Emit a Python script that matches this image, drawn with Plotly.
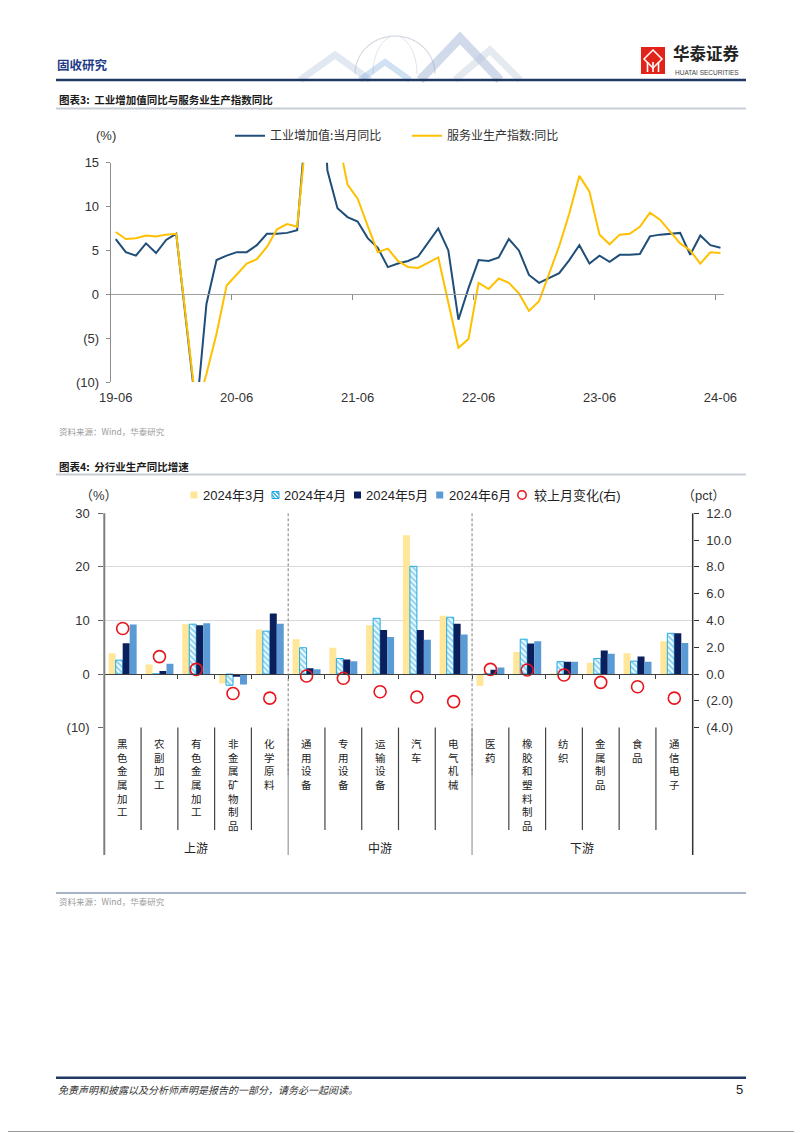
import math
import plotly.graph_objects as go

# The page places the figure 8px in from the top-left corner (default body margin),
# so the figure is sized to fill the rest of the 802x1133 window.
OFF = 8
W, H = 802 - OFF, 1133 - OFF
def px(x): return (x - OFF) / W
def py(y): return 1 - (y - OFF) / H

FONT_NUM = "Liberation Sans, Arial, Noto Sans CJK SC"
FONT_CJK = "Noto Sans CJK SC"

# ---------------- Chart 1 data (monthly, 2019-06 .. 2024-06; Jan merged into Feb) ----------------
month_tick_labels = ["19-06", "20-06", "21-06", "22-06", "23-06", "24-06"]
month_tick_index = [0, 12, 24, 36, 48, 60]
ip_yoy = [6.3, 4.8, 4.4, 5.8, 4.7, 6.2, 6.9,
          None, -13.5, -1.1, 3.9, 4.4, 4.8, 4.8, 5.6, 6.9, 6.9, 7.0, 7.3,
          None, 35.1, 14.1, 9.8, 8.8, 8.3, 6.4, 5.3, 3.1, 3.5, 3.8, 4.3,
          None, 7.5, 5.0, -2.9, 0.7, 3.9, 3.8, 4.2, 6.3, 5.0, 2.2, 1.3,
          None, 2.4, 3.9, 5.6, 3.5, 4.4, 3.7, 4.5, 4.5, 4.6, 6.6, 6.8,
          None, 7.0, 4.5, 6.7, 5.6, 5.3]
svc_yoy = [7.1, 6.3, 6.4, 6.7, 6.6, 6.8, 6.9,
           None, -13.0, -9.1, -4.5, 1.0, 2.3, 3.5, 4.0, 5.4, 7.4, 8.0, 7.7,
           None, 31.1, 25.3, 18.2, 12.5, 10.9, 7.8, 4.8, 5.2, 3.8, 3.1, 3.0,
           None, 4.2, -0.9, -6.1, -5.1, 1.3, 0.6, 1.8, 1.3, 0.1, -1.9, -0.8,
           None, 5.5, 9.2, 13.5, 11.7, 6.8, 5.7, 6.8, 6.9, 7.7, 9.3, 8.5,
           None, 5.8, 5.0, 3.5, 4.8, 4.7]
left1_ticks = [-10, -5, 0, 5, 10, 15]
left1_labels = ["(10)", "(5)", "0", "5", "10", "15"]

# ---------------- Chart 2 data ----------------
industries = ["黑色金属加工", "农副加工", "有色金属加工", "非金属矿物制品", "化学原料",
              "通用设备", "专用设备", "运输设备", "汽车", "电气机械",
              "医药", "橡胶和塑料制品", "纺织", "金属制品", "食品", "通信电子"]
group_names = ["上游", "中游", "下游"]
group_sizes = [5, 5, 6]
yoy_2403 = [3.9, 1.8, 9.3, -1.75, 8.3, 6.5, 4.9, 9.1, 25.9, 10.9, -2.25, 4.1, -0.2, 2.1, 3.9, 6.1]
yoy_2404 = [2.6, 0.0, 9.3, -2.1, 8.0, 4.9, 2.9, 10.4, 20.1, 10.6, 0.0, 6.5, 2.3, 2.9, 2.4, 7.6]
yoy_2405 = [5.75, 0.56, 9.1, -0.5, 11.3, 1.06, 2.7, 8.2, 8.2, 9.4, 0.8, 5.7, 2.3, 4.4, 3.25, 7.6]
yoy_2406 = [9.25, 1.9, 9.5, -1.95, 9.4, 0.9, 2.4, 6.9, 6.4, 7.4, 1.2, 6.1, 2.3, 3.8, 2.3, 5.8]
mom_change = [3.4, 1.3, 0.35, -1.45, -1.8, -0.15, -0.32, -1.32, -1.72, -2.06, 0.35, 0.3, -0.07, -0.62, -0.95, -1.8]
series_names = ["2024年3月", "2024年4月", "2024年5月", "2024年6月", "较上月变化(右)"]
left2_ticks = [-10, 0, 10, 20, 30]
left2_labels = ["(10)", "0", "10", "20", "30"]
right2_ticks = [-4, -2, 0, 2, 4, 6, 8, 10, 12]
right2_labels = ["(4.0)", "(2.0)", "0.0", "2.0", "4.0", "6.0", "8.0", "10.0", "12.0"]

# colours
C_IP, C_SVC = "#1F4E79", "#FFC000"
C_MAR, C_APR, C_MAY, C_JUN, C_CHG = "#FFE699", "#1FAAE3", "#0B1F5C", "#5B9BD5", "#E8141C"

# ---------------- geometry (window pixels) ----------------
C1_X0, C1_X1 = 110.7, 724.0
C1_YTOP, C1_YBOT, C1_YZERO = 162.7, 382.0, 294.0
C2_X0, C2_X1 = 104.3, 692.7
C2_YTOP, C2_YBOT, C2_YZERO = 513.3, 727.6, 674.0

fig = go.Figure()

idx = list(range(len(ip_yoy)))
fig.add_trace(go.Scatter(x=idx, y=ip_yoy, mode="lines", name="工业增加值:当月同比",
                         connectgaps=True, line=dict(color=C_IP, width=2),
                         xaxis="x", yaxis="y", legend="legend"))
fig.add_trace(go.Scatter(x=idx, y=svc_yoy, mode="lines", name="服务业生产指数:同比",
                         connectgaps=True, line=dict(color=C_SVC, width=2),
                         xaxis="x", yaxis="y", legend="legend2"))
fig.add_trace(go.Scatter(x=[None], y=[None], xaxis="x3", yaxis="y", showlegend=False, hoverinfo="skip"))

cat_x = list(range(len(industries)))
fig.add_trace(go.Bar(x=cat_x, y=yoy_2403, name=series_names[0], marker=dict(color=C_MAR, line=dict(width=0)),
                     xaxis="x2", yaxis="y2", showlegend=False))
fig.add_trace(go.Bar(x=cat_x, y=yoy_2404, name=series_names[1],
                     marker=dict(color="white", line=dict(color=C_APR, width=1),
                                 pattern=dict(shape="\\", fgcolor=C_APR, bgcolor="white", size=4, solidity=0.55)),
                     xaxis="x2", yaxis="y2", showlegend=False))
fig.add_trace(go.Bar(x=cat_x, y=yoy_2405, name=series_names[2], marker=dict(color=C_MAY, line=dict(width=0)),
                     xaxis="x2", yaxis="y2", showlegend=False))
fig.add_trace(go.Bar(x=cat_x, y=yoy_2406, name=series_names[3], marker=dict(color=C_JUN, line=dict(width=0)),
                     xaxis="x2", yaxis="y2", showlegend=False))
fig.add_trace(go.Scatter(x=[None], y=[None], xaxis="x4", yaxis="y2", showlegend=False, hoverinfo="skip"))
fig.add_trace(go.Scatter(x=cat_x, y=mom_change, mode="markers", name=series_names[4],
                         marker=dict(symbol="circle-open", size=12, color=C_CHG, line=dict(width=1.6)),
                         xaxis="x2", yaxis="y3", showlegend=False))

tickfont = dict(family=FONT_NUM, size=13, color="#333333")

def leg(x, y, size):
    return dict(x=px(x), y=py(y), xanchor="left", yanchor="middle", orientation="h",
                bgcolor="rgba(0,0,0,0)", borderwidth=0,
                font=dict(family=FONT_CJK, size=size, color="#333333"))

c1_xrange = [-0.5, 60.35]
c2_xrange = [-0.5, 15.5]

fig.update_layout(
    width=W, height=H, margin=dict(l=0, r=0, t=0, b=0, autoexpand=False),
    paper_bgcolor="white", plot_bgcolor="rgba(0,0,0,0)",
    barmode="group", bargap=0.24, bargroupgap=0.0,
    xaxis=dict(domain=[px(C1_X0), px(C1_X1)], range=c1_xrange, anchor="y",
               tickvals=month_tick_index, ticktext=month_tick_labels, ticks="",
               showline=False, showgrid=False, zeroline=False, tickfont=tickfont,
               ticklabelstandoff=6),
    yaxis=dict(domain=[py(C1_YBOT), py(C1_YTOP)], range=[-10, 15], anchor="x",
               tickvals=left1_ticks, ticktext=left1_labels, ticks="outside", ticklen=4,
               tickcolor="#8C8C8C", showline=True, linecolor="#8C8C8C", linewidth=1,
               showgrid=False, zeroline=False, tickfont=tickfont, ticklabelstandoff=4),
    xaxis3=dict(overlaying="x", anchor="free", position=py(C1_YZERO), domain=[px(C1_X0), px(C1_X1)],
                range=c1_xrange, tickvals=[11.5, 23.5, 35.5, 47.5, 59.5], ticks="outside", ticklen=5,
                tickcolor="#8C8C8C", showticklabels=False, showline=True, linecolor="#A0A0A0",
                linewidth=1, showgrid=False, zeroline=False),
    xaxis2=dict(domain=[px(C2_X0), px(C2_X1)], range=c2_xrange, anchor="y2",
                showticklabels=False, ticks="", showline=False, showgrid=False, zeroline=False),
    yaxis2=dict(domain=[py(C2_YBOT), py(C2_YTOP)], range=[-10, 30], anchor="x2",
                tickvals=left2_ticks, ticktext=left2_labels, ticks="outside", ticklen=5,
                tickcolor="#666666", showline=False, showgrid=True, gridcolor="#D9D9D9", gridwidth=1,
                zeroline=False, tickfont=tickfont, ticklabelstandoff=6),
    yaxis3=dict(overlaying="y2", side="right", anchor="x2", range=[-4, 12],
                tickvals=right2_ticks, ticktext=right2_labels, ticks="outside", ticklen=5,
                tickcolor="#333333", showline=False, showgrid=False, zeroline=False,
                tickfont=tickfont, ticklabelstandoff=5),
    xaxis4=dict(overlaying="x2", anchor="free", position=py(C2_YZERO), domain=[px(C2_X0), px(C2_X1)],
                range=c2_xrange, tickvals=[i + 0.5 for i in range(len(industries) - 1)],
                ticks="outside", ticklen=4, tickcolor="#404040", showticklabels=False,
                showline=True, linecolor="#404040", linewidth=1.2, showgrid=False, zeroline=False),
    legend=leg(230, 135.7, 12),
    legend2=leg(407, 135.7, 12),
)

shapes = []
annotations = []

def hline(y, x0, x1, color, width, dash="solid"):
    shapes.append(dict(type="line", xref="paper", yref="paper", x0=px(x0), x1=px(x1), y0=py(y), y1=py(y),
                       line=dict(color=color, width=width, dash=dash)))

def vline(x, y0, y1, color, width, dash="solid", xref="paper"):
    xx = px(x) if xref == "paper" else x
    shapes.append(dict(type="line", xref=xref, yref="paper", x0=xx, x1=xx, y0=py(y0), y1=py(y1),
                       line=dict(color=color, width=width, dash=dash)))

def rect(x0, y0, x1, y1, fill, line_color=None, lw=0):
    shapes.append(dict(type="rect", xref="paper", yref="paper", x0=px(x0), x1=px(x1), y0=py(y1), y1=py(y0),
                       fillcolor=fill, line=dict(color=line_color or "rgba(0,0,0,0)", width=lw)))

def seg(x0, y0, x1, y1, color, width):
    shapes.append(dict(type="line", xref="paper", yref="paper", x0=px(x0), x1=px(x1), y0=py(y0), y1=py(y1),
                       line=dict(color=color, width=width)))

def text(t, x, y, size=12, color="#333333", family=FONT_CJK, xanchor="left", yanchor="middle", xref="paper", italic=False):
    annotations.append(dict(text=t, x=(px(x) if xref == "paper" else x), y=py(y), xref=xref, yref="paper",
                            xanchor=xanchor, yanchor=yanchor, showarrow=False,
                            font=dict(family=family, size=size, color=color,
                                      style=("italic" if italic else "normal"))))

# page border (right and bottom edges are inside the drawable area)
vline(800.5, 8, 1131.5, "#9A9A9A", 1)
hline(1131.5, 8, 800.5, "#9A9A9A", 1)

# header decoration: globe + chevrons
cx, cy, r = 395, 74, 40
pts = []
for k in range(0, 181, 6):
    a = math.radians(180 + k)
    pts.append((cx + r * math.cos(a), min(cy + r * math.sin(a) * 0.95, 80)))
shapes.append(dict(type="path", xref="paper", yref="paper",
                   path="M " + " L ".join(f"{px(a_):.5f},{py(b_):.5f}" for a_, b_ in pts),
                   line=dict(color="#D6DBE3", width=1.2)))
pts = []
for k in range(0, 181, 6):
    a = math.radians(180 + k)
    pts.append((cx + r * 0.55 * math.cos(a), cy + r * math.sin(a) * 0.95))
shapes.append(dict(type="path", xref="paper", yref="paper",
                   path="M " + " L ".join(f"{px(a_):.5f},{py(b_):.5f}" for a_, b_ in pts),
                   line=dict(color="#E1E5EB", width=1)))
for (x0, xt, x1, yt, col, wd) in [(300, 335, 370, 55, "rgba(170,190,215,0.35)", 7),
                                  (360, 385, 410, 62, "rgba(120,170,220,0.35)", 6),
                                  (420, 460, 500, 38, "rgba(120,150,195,0.35)", 9),
                                  (455, 490, 520, 50, "rgba(180,195,215,0.35)", 7)]:
    shapes.append(dict(type="path", xref="paper", yref="paper",
                       path=f"M {px(x0)},{py(80)} L {px(xt)},{py(yt)} L {px(x1)},{py(80)}",
                       line=dict(color=col, width=wd)))

# logo
rect(641, 47, 665, 74, "#E2231A")
shapes.append(dict(type="path", xref="paper", yref="paper",
                   path=f"M {px(653)},{py(50)} L {px(662)},{py(59)} L {px(653)},{py(68)} L {px(644)},{py(59)} Z",
                   fillcolor="rgba(0,0,0,0)", line=dict(color="white", width=1.5)))
for xv in [647.5, 653, 658.5]:
    seg(xv, 62, xv, 72, "white", 1.6)
text("<b>华泰证券</b>", 671, 67, size=16.5, color="#222222", yanchor="bottom")
text("HUATAI SECURITIES", 673, 66.5, size=6.5, color="#444444", family=FONT_NUM, yanchor="top")
text("<b>固收研究</b>", 55, 64, size=12.5, color="#1F3C88")

# header / title lines
hline(80, 56, 746, "#1F3864", 2.5)
text("<b>图表3:  工业增加值同比与服务业生产指数同比</b>", 57, 100, size=10.5, color="#1A1A1A")
hline(108.5, 56, 746, "#C8CDD6", 2)
text("资料来源：Wind，华泰研究", 57, 431, size=8.5, color="#9A9A9A")

text("<b>图表4:  分行业生产同比增速</b>", 57, 466, size=10.5, color="#1A1A1A")
hline(474.5, 56, 746, "#C8CDD6", 2)
hline(893, 56, 746, "#A7B3C3", 1.8)
text("资料来源：Wind，华泰研究", 57, 901, size=8.5, color="#9A9A9A")

# footer
hline(1077.7, 56, 746, "#1F3864", 2.5)
text("免责声明和披露以及分析师声明是报告的一部分，请务必一起阅读。", 56, 1089, size=10, color="#333333", italic=True)
text("5", 745, 1089, size=13, color="#222222", family=FONT_NUM, xanchor="right")

# chart 1 unit
text("(%)", 106, 135.7, size=13, color="#333333", family=FONT_NUM, xanchor="center")

# chart 2 units
text("（%）", 99, 495, size=13, color="#333333", family=FONT_NUM, xanchor="center")
text("（pct）", 703, 495, size=13, color="#333333", family=FONT_NUM, xanchor="center")

# chart 2 legend (symbols + labels)
LY = 495
leg_sym_x = [194, 275.5, 357.5, 439.7, 522]
leg_txt_x = [200.7, 282.3, 364, 446.7, 531.7]
rect(leg_sym_x[0] - 3.5, LY - 3.5, leg_sym_x[0] + 3.5, LY + 3.5, C_MAR)
hx = leg_sym_x[1]
rect(hx - 3.5, LY - 3.5, hx + 3.5, LY + 3.5, "white", C_APR, 1)
seg(hx - 3.5, LY - 3.5, hx + 3.5, LY + 3.5, C_APR, 1.2)
seg(hx - 3.5, LY - 0.5, hx - 0.5, LY + 3.5, C_APR, 1.2)
seg(hx + 0.5, LY - 3.5, hx + 3.5, LY - 0.5, C_APR, 1.2)
rect(leg_sym_x[2] - 3.5, LY - 3.5, leg_sym_x[2] + 3.5, LY + 3.5, C_MAY)
rect(leg_sym_x[3] - 3.5, LY - 3.5, leg_sym_x[3] + 3.5, LY + 3.5, C_JUN)
shapes.append(dict(type="circle", xref="paper", yref="paper",
                   x0=px(leg_sym_x[4] - 4.2), x1=px(leg_sym_x[4] + 4.2), y0=py(LY + 4.2), y1=py(LY - 4.2),
                   line=dict(color=C_CHG, width=1.5)))
for nm, tx in zip(series_names, leg_txt_x):
    text(nm, tx, LY, size=13, color="#222222", family=FONT_NUM)

# chart 2 frame lines (axes extended into the label area)
vline(C2_X0, C2_YTOP, 855, "#7F7F7F", 2)
vline(C2_X1, C2_YTOP, 855, "#333333", 1.5)
start = 0
group_bounds = []
for gs in group_sizes:
    group_bounds.append(start + gs - 0.5)
    start += gs
for i in range(len(industries) - 1):
    b = i + 0.5
    if b in group_bounds:
        vline(b, C2_YBOT, 855, "#9A9A9A", 1.2, xref="x2")
    else:
        vline(b, C2_YBOT, 830, "#444444", 1.2, xref="x2")
for b in group_bounds[:-1]:
    vline(b, C2_YTOP, 775, "#7F7F7F", 1, dash="3px,2px", xref="x2")

# category labels (vertical)
for i, name in enumerate(industries):
    annotations.append(dict(text="<br>".join(list(name)), x=i, y=py(734), xref="x2", yref="paper",
                            xanchor="center", yanchor="top", showarrow=False,
                            font=dict(family=FONT_CJK, size=10.5, color="#222222")))
start = 0
for gname, gs in zip(group_names, group_sizes):
    text(gname, start + (gs - 1) / 2, 847, size=12, color="#222222", xanchor="center", xref="x2")
    start += gs

fig.update_layout(shapes=shapes, annotations=annotations)
fig.write_html("out.html")
